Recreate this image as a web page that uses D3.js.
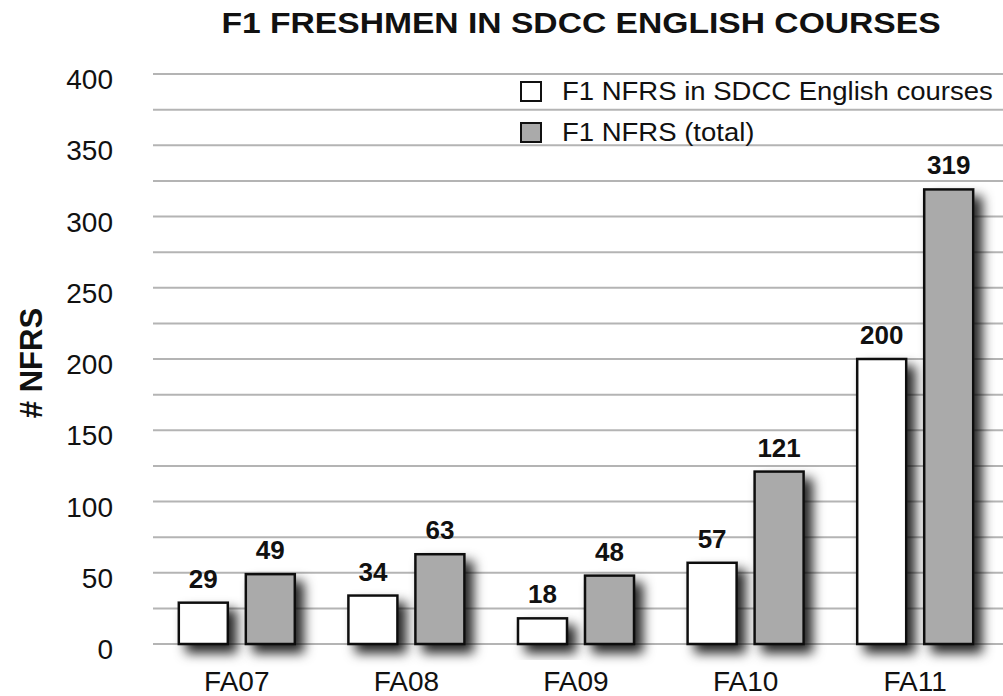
<!DOCTYPE html>
<html>
<head>
<meta charset="utf-8">
<script src="https://cdn.jsdelivr.net/npm/d3@7"></script>
<style>
  body { margin: 0; background: #fff; }
  text { font-family: "Liberation Sans", Arial, Helvetica, sans-serif; }
</style>
</head>
<body>
<svg id="chart" width="1003" height="696"></svg>
<script>
// data
var terms = ["FA07", "FA08", "FA09", "FA10", "FA11"];
var englishNFRS = [29, 34, 18, 57, 200];
var totalNFRS = [49, 63, 48, 121, 319];
var seriesNames = ["F1 NFRS in SDCC English courses", "F1 NFRS (total)"];
var seriesFill = ["#ffffff", "#aaaaaa"];
var yTicks = [0, 50, 100, 150, 200, 250, 300, 350, 400];
var gridTicks = d3.range(0, 401, 25);

var svg = d3.select("#chart");

// drop shadow for bars
var defs = svg.append("defs");
var f = defs.append("filter").attr("id", "shadow")
	.attr("x", "-40%").attr("y", "-40%").attr("width", "200%").attr("height", "200%");
f.append("feDropShadow")
	.attr("dx", 8).attr("dy", 8)
	.attr("stdDeviation", 6)
	.attr("flood-color", "#000")
	.attr("flood-opacity", 0.85);

var plotLeft = 153, plotRight = 1003;

var x = d3.scaleBand()
	.domain(terms)
	.range([152, 1000]);

var y = d3.scaleLinear()
	.domain([0, 400])
	.range([644, 74]);

// gridlines every 25
svg.append("g").selectAll("line")
	.data(gridTicks)
	.enter()
	.append("line")
	.attr("x1", plotLeft)
	.attr("x2", plotRight)
	.attr("y1", d => y(d))
	.attr("y2", d => y(d))
	.attr("stroke", "#b4b4b4")
	.attr("stroke-width", 2);

// y axis labels
var yAxis = svg.append("g")
	.attr("transform", "translate(113,0)")
	.call(d3.axisLeft(y).tickValues(yTicks).tickSize(0).tickPadding(0));
yAxis.select(".domain").remove();
yAxis.selectAll("text")
	.attr("font-size", 28)
	.attr("fill", "#111")
	.attr("dy", "0.52em")
	.style("font-family", "'Liberation Sans', Arial, sans-serif");

// x axis labels
var xAxis = svg.append("g")
	.attr("transform", "translate(0,671)")
	.call(d3.axisBottom(x).tickSize(0).tickPadding(0));
xAxis.select(".domain").remove();
xAxis.selectAll("text")
	.attr("font-size", 28)
	.attr("fill", "#111")
	.attr("dy", "0.71em")
	.style("font-family", "'Liberation Sans', Arial, sans-serif");

// bars, grouped per term
var barW = 49, gap = 18;
var inner = d3.scaleOrdinal()
	.domain([0, 1])
	.range([-(barW + gap / 2), gap / 2]);

var rows = [];
terms.forEach(function(t, i) {
	rows.push({ term: t, s: 0, v: englishNFRS[i] });
	rows.push({ term: t, s: 1, v: totalNFRS[i] });
});

svg.append("g")
	.selectAll("rect")
	.data(rows)
	.enter()
	.append("rect")
	.attr("x", d => x(d.term) + x.bandwidth() / 2 + inner(d.s))
	.attr("y", d => y(d.v))
	.attr("width", barW)
	.attr("height", d => y(0) - y(d.v))
	.attr("fill", d => seriesFill[d.s])
	.attr("stroke", "#111")
	.attr("stroke-width", 2.5)
	.attr("filter", "url(#shadow)");

// value labels
svg.append("g")
	.selectAll("text")
	.data(rows)
	.enter()
	.append("text")
	.attr("x", d => x(d.term) + x.bandwidth() / 2 + inner(d.s) + barW / 2)
	.attr("y", d => y(d.v) - 15)
	.attr("text-anchor", "middle")
	.attr("font-size", 26)
	.attr("font-weight", "bold")
	.attr("fill", "#111")
	.text(d => d.v);

// title (a bit wider than the font's natural width)
svg.append("text")
	.attr("transform", "translate(581,33) scale(1.16,1)")
	.attr("text-anchor", "middle")
	.attr("font-size", 29)
	.attr("font-weight", "bold")
	.attr("fill", "#111")
	.text("F1 FRESHMEN IN SDCC ENGLISH COURSES");

// y title
svg.append("text")
	.attr("transform", "translate(42,363) rotate(-90)")
	.attr("text-anchor", "middle")
	.attr("font-size", 31)
	.attr("font-weight", "bold")
	.attr("fill", "#111")
	.text("# NFRS");

// legend
var legend = svg.append("g")
	.selectAll("g")
	.data(seriesNames)
	.enter()
	.append("g")
	.attr("transform", (d, i) => `translate(521, ${82 + i * 41})`);

legend.append("rect")
	.attr("width", 20)
	.attr("height", 19)
	.attr("fill", (d, i) => seriesFill[i])
	.attr("stroke", "#111")
	.attr("stroke-width", 2);

legend.append("text")
	.attr("transform", "translate(41,18) scale(1.1,1)")
	.attr("font-size", 25)
	.attr("fill", "#111")
	.text(d => d);
</script>
</body>
</html>
